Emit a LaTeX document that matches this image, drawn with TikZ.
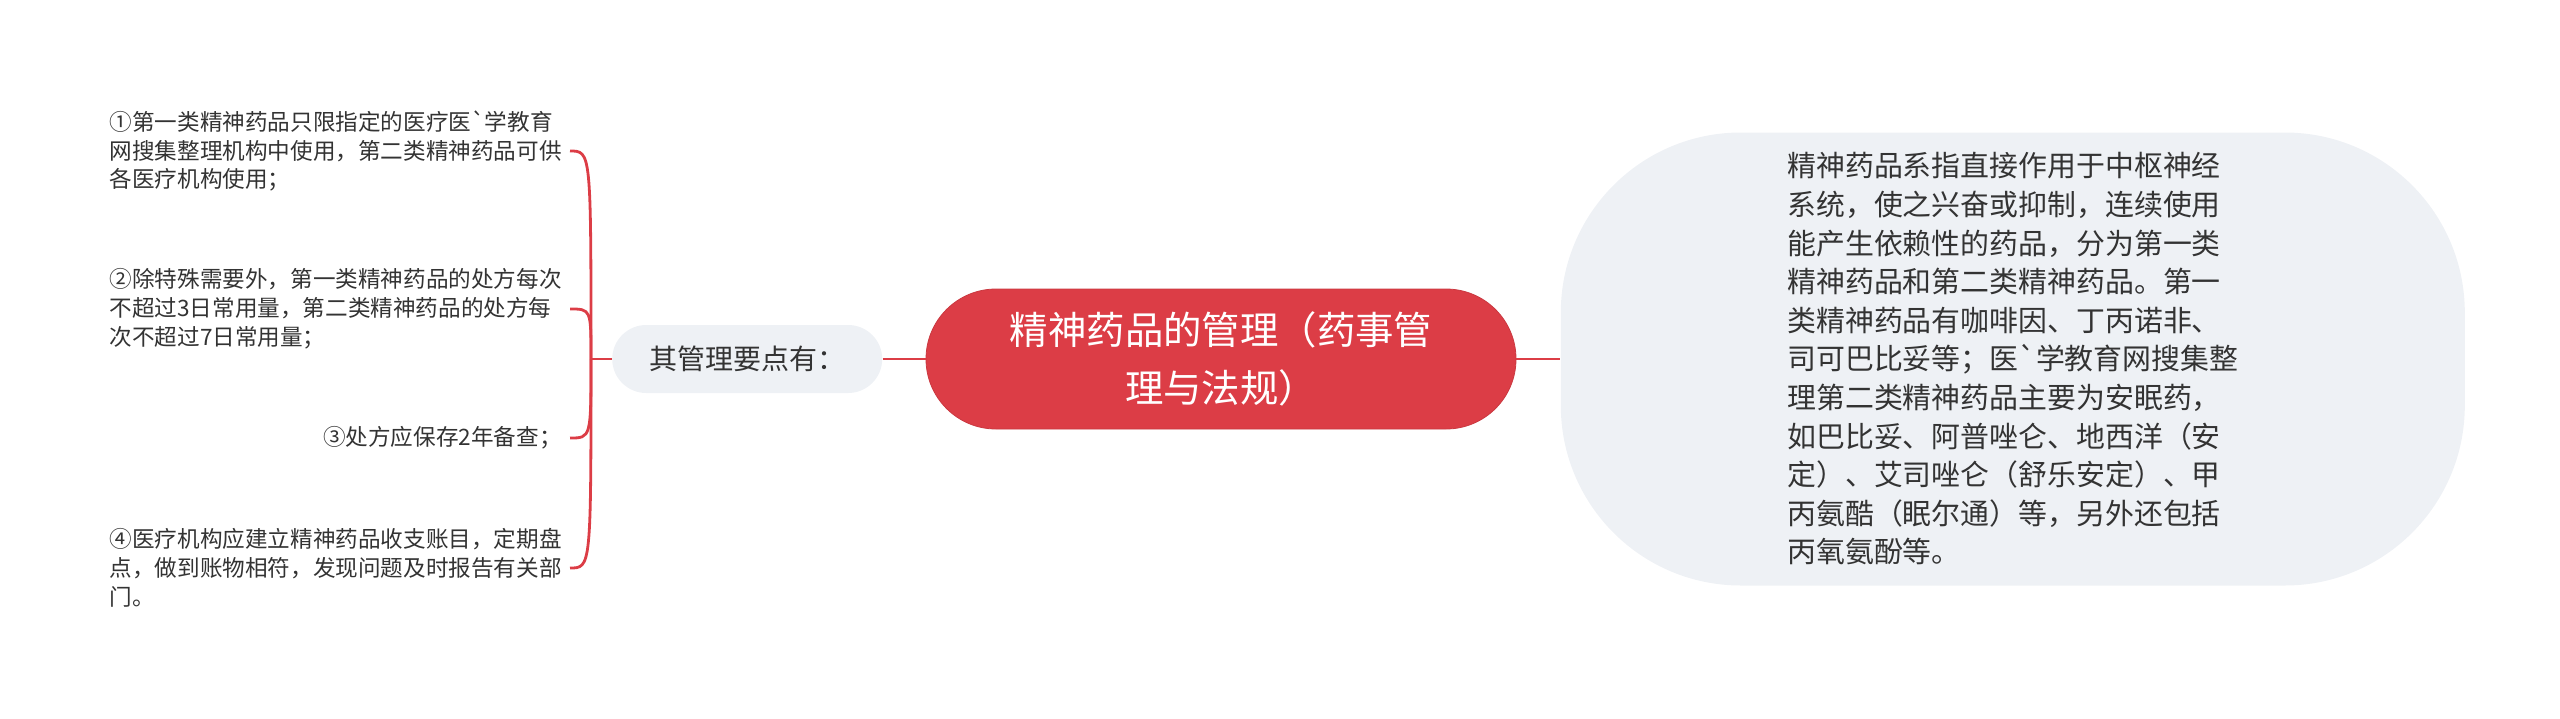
\documentclass[tikz,border=0pt]{standalone}
\usepackage{fontspec}
\setmainfont{Noto Sans CJK SC}[Ligatures=TeXOff]
\usetikzlibrary{positioning}
\definecolor{mapred}{HTML}{DC3D46}
\definecolor{mapgrey}{HTML}{EEF1F5}
\definecolor{maptext}{HTML}{333333}
\tikzstyle{rootnode} = [rectangle, rounded corners=35pt, fill=mapred, draw=mapred!92!black,
    minimum width=295pt, minimum height=70pt, text=white, align=center,
    font={\fontsize{19.2}{29}\selectfont}]
\tikzstyle{subnode} = [rectangle, rounded corners=17pt, fill=mapgrey,
    minimum width=135pt, minimum height=34pt, text=maptext, align=center,
    font={\fontsize{14}{17}\selectfont}]
\tikzstyle{infonode} = [rectangle, rounded corners=90pt, fill=mapgrey,
    minimum width=452pt, minimum height=226.5pt, text=maptext, align=left,
    font={\fontsize{14.45}{19.3}\selectfont}]
\tikzstyle{leafnode} = [inner sep=0pt, text=maptext, align=left, anchor=east,
    font={\fontsize{11.3}{14.4}\selectfont}]
\tikzstyle{branch} = [draw=mapred, line width=1.4pt]

\begin{document}
\begin{tikzpicture}[x=0.5pt, y=-0.5pt]
    \useasboundingbox (0,0) rectangle (2560,718);

    \node [rootnode] (root) at (1221,359) {精神药品的管理（药事管\\理与法规）};
    \node [subnode, left=21.5pt of root] (points) {其管理要点有：};
    \node [infonode, right=22pt of root] (defn) {精神药品系指直接作用于中枢神经\\
        系统，使之兴奋或抑制，连续使用\\
        能产生依赖性的药品，分为第一类\\
        精神药品和第二类精神药品。第一\\
        类精神药品有咖啡因、丁丙诺非、\\
        司可巴比妥等；医`学教育网搜集整\\
        理第二类精神药品主要为安眠药，\\
        如巴比妥、阿普唑仑、地西洋（安\\
        定）、艾司唑仑（舒乐安定）、甲\\
        丙氨酷（眠尔通）等，另外还包括\\
        丙氧氨酚等。};

    % points of management
    \node [leafnode] (p1) at (562,151) {①第一类精神药品只限指定的医疗医`学教育\\网搜集整理机构中使用，第二类精神药品可供\\各医疗机构使用；};
    \node [leafnode] (p2) at (562,309) {②除特殊需要外，第一类精神药品的处方每次\\不超过3日常用量，第二类精神药品的处方每\\次不超过7日常用量；};
    \node [leafnode] (p3) at (562,438) {③处方应保存2年备查；};
    \node [leafnode] (p4) at (562,568) {④医疗机构应建立精神药品收支账目，定期盘\\点，做到账物相符，发现问题及时报告有关部\\门。};

    \coordinate (hub) at (591,359);

    \draw [branch] (points) -- (root);
    \draw [branch] (root) -- (defn);
    \draw [branch] (points) -- (hub);
    \foreach \p in {p1,p2,p3,p4}
        \draw [branch] (hub) .. controls (hub |- \p.east) and (hub |- \p.east) .. ([xshift=4pt]\p.east);

\end{tikzpicture}
\end{document}
